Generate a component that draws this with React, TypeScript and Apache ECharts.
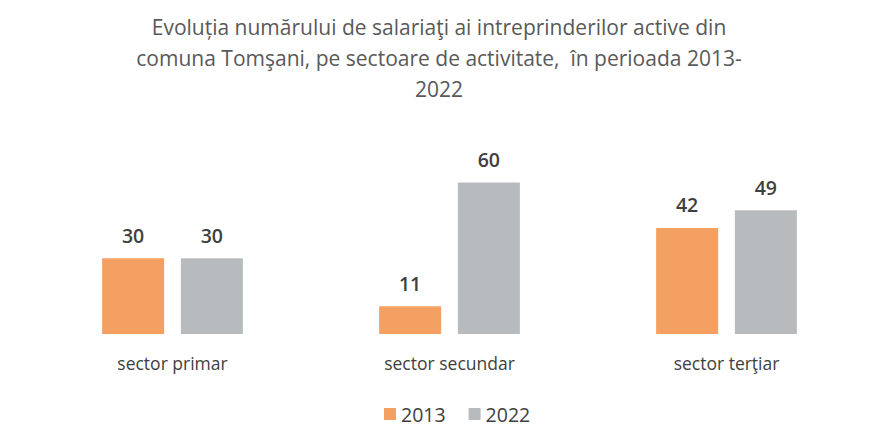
import React, { useEffect, useRef } from "react";
import * as echarts from "echarts";

const categories = ["sector primar", "sector secundar", "sector terţiar"];
const series2013 = [30, 11, 42];
const series2022 = [30, 60, 49];
const titleText =
  "Evoluția numărului de salariaţi ai intreprinderilor active din\ncomuna Tomşani, pe sectoare de activitate,  în perioada 2013-\n2022";

export default function App() {
  const ref = useRef<HTMLDivElement>(null);
  useEffect(() => {
    const chart = echarts.init(ref.current!, null, { renderer: "svg" });
    const font = "'Open Sans', 'Noto Sans', sans-serif";
    chart.setOption({
      animation: false,
      backgroundColor: "#ffffff",
      title: {
        text: titleText,
        left: "center",
        top: 6,
        textStyle: {
          fontFamily: font,
          fontSize: 21,
          fontWeight: "normal",
          color: "#595959",
          lineHeight: 31,
        },
      },
      legend: {
        top: 399,
        left: 379,
        itemWidth: 12,
        itemHeight: 12,
        itemGap: 23,
        icon: "rect",
        textStyle: { fontFamily: font, fontSize: 19.5, color: "#404040" },
        data: ["2013", "2022"],
      },
      grid: { left: 34, right: 13, top: 132, bottom: 98 },
      xAxis: {
        type: "category",
        data: categories,
        axisLine: { show: false },
        axisTick: { show: false },
        axisLabel: {
          fontFamily: font,
          fontSize: 17.5,
          color: "#404040",
          margin: 20,
        },
      },
      yAxis: {
        type: "value",
        min: 0,
        max: 80,
        show: false,
        splitLine: { show: false },
      },
      series: [
        {
          name: "2013",
          type: "bar",
          data: series2013,
          barWidth: 62,
          barGap: "27%",
          itemStyle: { color: "#F4A063" },
          label: {
            show: true,
            position: "top",
            distance: 13,
            fontFamily: font,
            fontSize: 19.5,
            fontWeight: 600,
            color: "#404040",
          },
        },
        {
          name: "2022",
          type: "bar",
          data: series2022,
          barWidth: 62,
          itemStyle: { color: "#B8BBBD" },
          label: {
            show: true,
            position: "top",
            distance: 13,
            fontFamily: font,
            fontSize: 19.5,
            fontWeight: 600,
            color: "#404040",
          },
        },
      ],
    });
    return () => chart.dispose();
  }, []);
  return (
    <div
      ref={ref}
      style={{ position: "absolute", left: 0, top: 0, width: 878, height: 432 }}
    />
  );
}
